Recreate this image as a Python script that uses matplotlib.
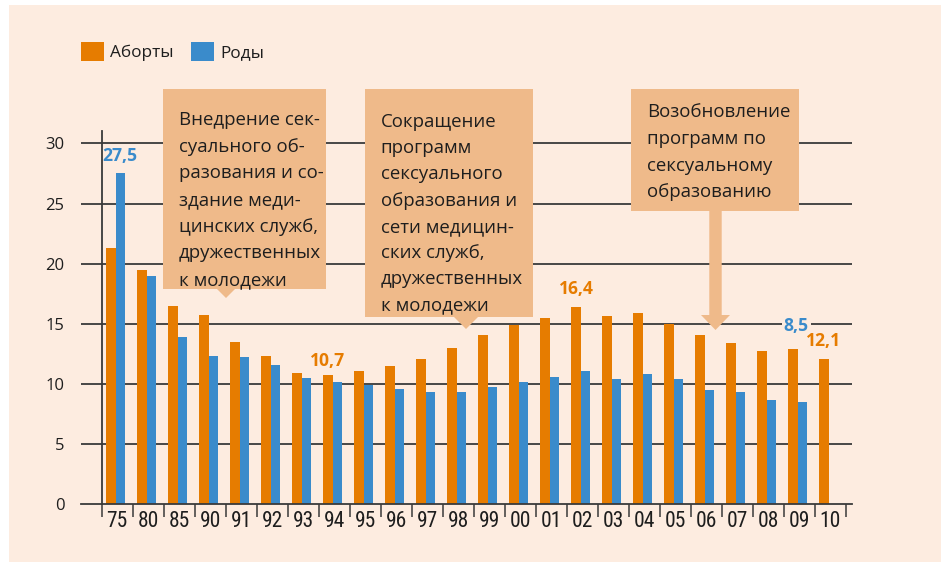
import matplotlib
matplotlib.use("Agg")
import matplotlib.pyplot as plt
from matplotlib.patches import Rectangle, Polygon
from matplotlib import font_manager as fm

# ---------------- data ----------------
years = ["75", "80", "85", "90", "91", "92", "93", "94", "95", "96", "97", "98",
         "99", "00", "01", "02", "03", "04", "05", "06", "07", "08", "09", "10"]
abortions = [21.3, 19.5, 16.5, 15.7, 13.5, 12.3, 10.9, 10.7, 11.1, 11.5, 12.1, 13.0,
             14.1, 14.9, 15.5, 16.4, 15.6, 15.9, 15.0, 14.1, 13.4, 12.7, 12.9, 12.1]
births = [27.5, 19.0, 13.9, 12.3, 12.2, 11.6, 10.5, 10.15, 9.9, 9.6, 9.3, 9.3,
          9.7, 10.15, 10.6, 11.1, 10.4, 10.8, 10.4, 9.5, 9.3, 8.65, 8.5, None]
y_ticks = [0, 5, 10, 15, 20, 25, 30]
legend_labels = ["Аборты", "Роды"]
box1_lines = ["Внедрение сек-", "суального об-", "разования и со-", "здание меди-",
              "цинских служб,", "дружественных", "к молодежи"]
box2_lines = ["Сокращение", "программ", "сексуального", "образования и",
              "сети медицин-", "ских служб,", "дружественных", "к молодежи"]
box3_lines = ["Возобновление", "программ по", "сексуальному", "образованию"]

# ---------------- style ----------------
W, H = 941, 562
BG = "#fdece0"
ORANGE = "#e67c00"
BLUE = "#3a8bcb"
BOX = "#efba8a"
DARK = "#1e1e1e"
GRID = "#3a3a3a"
FONT = ["Open Sans", "DejaVu Sans"]

# pick a condensed font for the x tick labels if one is installed
names = {f.name for f in fm.fontManager.ttflist}
narrow = None
for cand in ["Liberation Sans Narrow", "DejaVu Sans Condensed", "Roboto Condensed",
             "Open Sans Condensed"]:
    if cand in names:
        narrow = cand
        break
cond_dejavu = any(f.name == "DejaVu Sans" and f.stretch in ("condensed", 600, "semi-condensed")
                  for f in fm.fontManager.ttflist)

fig = plt.figure(figsize=(W / 100, H / 100), dpi=100)
fig.patch.set_facecolor("white")
fig.patches.append(Rectangle((9 / W, 0), 1 - 9 / W, 1 - 5 / H, transform=fig.transFigure,
                             facecolor=BG, edgecolor="none", zorder=-10))

# axes placement in pixels
ax_l, ax_r, ax_b, ax_t = 81, 852, 504, 129
ax = fig.add_axes([ax_l / W, 1 - ax_b / H, (ax_r - ax_l) / W, (ax_b - ax_t) / H])
ax.set_facecolor("none")

x0_px, step = 117.2, 31.0            # category center in px, category width
pxu = 12.02                          # px per y unit
xmin = (ax_l - x0_px) / step
xmax = (ax_r - x0_px) / step
ymax = (ax_b - ax_t) / pxu
ax.set_xlim(xmin, xmax)
ax.set_ylim(0, ymax)


def dx(px):
    return (px - x0_px) / step


def dy(py):
    return (ax_b - py) / pxu


n = len(years)
xs = list(range(n))
bw = 0.30
ax.bar([x - 0.2 for x in xs], abortions, width=bw, color=ORANGE, zorder=3,
       label=legend_labels[0])
bx = [x + 0.1 for x, v in zip(xs, births) if v is not None]
bv = [v for v in births if v is not None]
ax.bar(bx, bv, width=bw, color=BLUE, zorder=3, label=legend_labels[1])

# grid lines
for yv in y_ticks[1:]:
    ax.axhline(yv, color=GRID, lw=1.3, zorder=1)

# spines
for s in ["top", "right", "left"]:
    ax.spines[s].set_visible(False)
ax.spines["bottom"].set_color(GRID)
ax.spines["bottom"].set_linewidth(1.3)
ax.spines["bottom"].set_zorder(4)
ax.plot([-0.5, -0.5], [0, dy(131)], color=GRID, lw=1.3, zorder=4, clip_on=False)

# ticks
ax.set_xticks(xs)
if narrow is not None:
    ax.set_xticklabels(years, family=[narrow, "DejaVu Sans"], fontsize=15.5, color=DARK)
elif cond_dejavu:
    ax.set_xticklabels(years, family="DejaVu Sans", fontstretch="condensed",
                       fontsize=15, color=DARK)
else:
    ax.set_xticklabels(years, family=["Roboto", "DejaVu Sans"], fontsize=14.5, color=DARK)
ax.set_xticks([x - 0.5 for x in range(n + 1)], minor=True)
ax.tick_params(axis="x", which="major", length=0, pad=5)
ax.tick_params(axis="x", which="minor", length=9.4, width=1.1, color=GRID, direction="out")
ax.set_yticks(y_ticks)
ax.set_yticklabels([str(v) for v in y_ticks], family=FONT, fontsize=12, color=DARK)
ax.tick_params(axis="y", length=0, pad=12)

# value labels (bar index, series, text, color, offset px, x-offset px)
labels = [
    (0, "b", "27,5", BLUE, 12.7, 0),
    (7, "a", "10,7", ORANGE, 9.7, 0),
    (15, "a", "16,4", ORANGE, 13.0, 0),
    (22, "b", "8,5", BLUE, 71.0, -6),
    (23, "a", "12,1", ORANGE, 13.0, 0),
]
for i, ser, txt, col, off, xoff in labels:
    if ser == "a":
        x, v = i - 0.2, abortions[i]
    else:
        x, v = i + 0.1, births[i]
    kw = {}
    if txt == "8,5":
        kw["bbox"] = dict(facecolor=BG, edgecolor="none", pad=1.5)
    ax.annotate(txt, xy=(x, v), xytext=(xoff * 0.72, off * 0.72), textcoords="offset points",
                ha="center", va="baseline", color=col, fontsize=12.6, fontweight="bold",
                family=FONT, zorder=6, **kw)

# annotation boxes (pixel geometry converted to data coords)
def poly(points_px, **kw):
    pts = [(dx(px), dy(py)) for px, py in points_px]
    ax.add_patch(Polygon(pts, closed=True, facecolor=BOX, edgecolor="none",
                         zorder=5, clip_on=False, **kw))


poly([(163, 89), (326, 89), (326, 289), (235, 289), (226, 298), (217, 289), (163, 289)])
poly([(365, 89), (533, 89), (533, 317), (478, 317), (466, 329), (454, 317), (365, 317)])
poly([(631, 89), (799, 89), (799, 211), (721.7, 211), (721.7, 315), (730, 315),
      (715.5, 330), (701, 315), (709.3, 315), (709.3, 211), (631, 211)])


def lines(txts, x_px, base_px, sp):
    for k, t in enumerate(txts):
        fig.text(x_px / W, 1 - (base_px + k * sp) / H, t, ha="left", va="baseline",
                 fontsize=13.4, family=FONT, color=DARK, zorder=10)


lines(box1_lines, 179, 125, 26.7)
lines(box2_lines, 380.7, 126.6, 26.3)
lines(box3_lines, 646.7, 117.3, 26.7)

# legend
leg = ax.legend(loc="upper left", bbox_to_anchor=(81 / W, 1 - 42 / H),
                bbox_transform=fig.transFigure, ncol=2, frameon=False,
                prop={"family": FONT, "size": 12.4}, handlelength=1.35, handleheight=1.3,
                handletextpad=0.35, columnspacing=1.0, borderpad=0, borderaxespad=0)
for t in leg.get_texts():
    t.set_color(DARK)

fig.savefig("out.png", dpi=100, facecolor=fig.get_facecolor())
